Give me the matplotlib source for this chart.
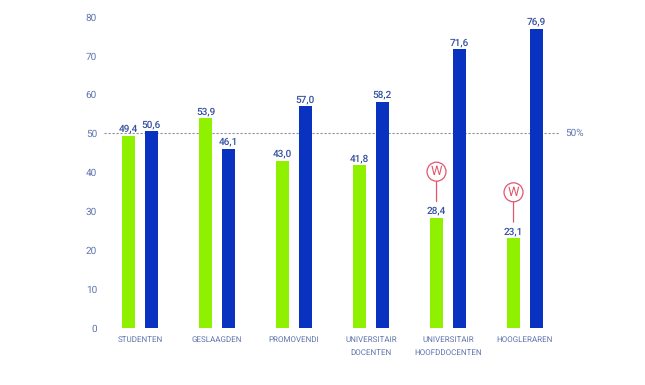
import numpy as np
import matplotlib
matplotlib.use("Agg")
import matplotlib.pyplot as plt

categories = ["STUDENTEN", "GESLAAGDEN", "PROMOVENDI", "UNIVERSITAIR\nDOCENTEN",
              "UNIVERSITAIR\nHOOFDDOCENTEN", "HOOGLERAREN"]
women = [49.4, 53.9, 43.0, 41.8, 28.4, 23.1]
men = [50.6, 46.1, 57.0, 58.2, 71.6, 76.9]
yticks = [0, 10, 20, 30, 40, 50, 60, 70, 80]
marked = [4, 5]
reference = 50

green = "#8ff000"
blue = "#0a32c0"
label_blue = "#34509f"
tick_blue = "#5f74ad"
red = "#e0566c"

plt.rcParams["font.family"] = ["Roboto", "DejaVu Sans"]
plt.rcParams["text.hinting"] = "none"
plt.rcParams["text.hinting_factor"] = 1

W, H = 645, 385
fig = plt.figure(figsize=(W / 100, H / 100), dpi=100)
left, right, top, bottom = 104, 560, 16.8, 328
ax = fig.add_axes([left / W, 1 - bottom / H, (right - left) / W, (bottom - top) / H])

x = np.arange(len(categories))
width = 0.175
off = 0.149
ax.bar(x - off, women, width, color=green, zorder=3)
ax.bar(x + off, men, width, color=blue, zorder=3)
ax.set_xlim(-(140 - left) / 77, 5 + (right - 525) / 77)
ax.set_ylim(0, 80)

ax.axhline(reference, color="#8a8f9c", lw=0.8, ls=(0, (2, 1.6)), zorder=2)
ax.annotate("50%", (1, reference), xycoords=("axes fraction", "data"), xytext=(4, 0),
            textcoords="offset points", fontsize=7, color=tick_blue, va="center", ha="left")

for i in range(len(categories)):
    ax.annotate(f"{women[i]:.1f}".replace(".", ","), (x[i] - off, women[i]), xytext=(0, 1.5),
                textcoords="offset points", ha="center", va="bottom", fontsize=7,
                fontweight="medium", color=label_blue)
    ax.annotate(f"{men[i]:.1f}".replace(".", ","), (x[i] + off, men[i]), xytext=(0, 1.5),
                textcoords="offset points", ha="center", va="bottom", fontsize=7,
                fontweight="medium", color=label_blue)

for i in marked:
    # stem stops above the value label
    ax.annotate("", (x[i] - off, women[i]), xytext=(0, 33), textcoords="offset points",
                arrowprops=dict(arrowstyle="-", color=red, lw=0.9, shrinkA=0, shrinkB=11.5))
    ax.annotate("W", (x[i] - off, women[i]), xytext=(0, 33), textcoords="offset points",
                ha="center", va="center", fontsize=9.5, color=red, zorder=6,
                bbox=dict(boxstyle="circle,pad=0.25", fc="white", ec=red, lw=0.9))

for s in ax.spines.values():
    s.set_visible(False)
ax.set_yticks(yticks)
ax.set_xticks(x)
ax.set_xticklabels(categories, linespacing=1.75)
ax.tick_params(axis="y", length=0, pad=5, labelsize=7.5, labelcolor=tick_blue)
ax.tick_params(axis="x", length=0, pad=6, labelsize=5.8, labelcolor=tick_blue)

fig.savefig("out.png", dpi=100)
